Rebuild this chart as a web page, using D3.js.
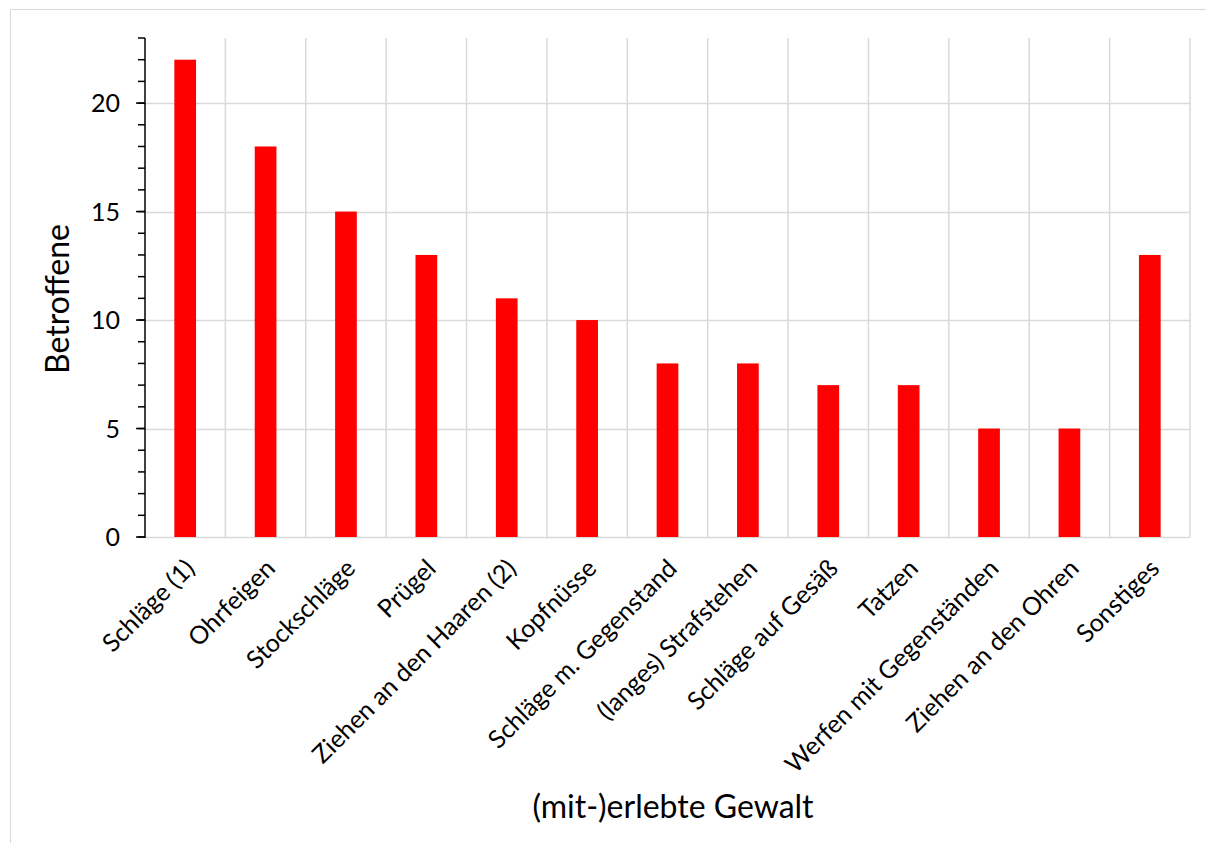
<!DOCTYPE html>
<html><head><meta charset="utf-8">
<script src="https://cdn.jsdelivr.net/npm/d3@7"></script>
<style>body{margin:0;background:#fff}svg{display:block;font-family:Lato,"Open Sans",sans-serif}</style>
</head><body><svg id="c" width="1206" height="843"></svg>
<script>
const categories = ["Schläge (1)","Ohrfeigen","Stockschläge","Prügel","Ziehen an den Haaren (2)","Kopfnüsse","Schläge m. Gegenstand","(langes) Strafstehen","Schläge auf Gesäß","Tatzen","Werfen mit Gegenständen","Ziehen an den Ohren","Sonstiges"];
const values = [22,18,15,13,11,10,8,8,7,7,5,5,13];
const yTicks = [0,5,10,15,20];
const yTitle = "Betroffene";
const xTitle = "(mit-)erlebte Gewalt";

const svg = d3.select("#c");
const L=145, R=1190, T=38, B=537;
svg.append("rect").attr("x",10.5).attr("y",9.5).attr("width",1200).attr("height",850).attr("fill","none").attr("stroke","#d9d9d9").attr("stroke-width",1);

const x = d3.scaleBand().domain(categories).range([L,R]).paddingInner(0).paddingOuter(0);
const y = d3.scaleLinear().domain([0,23]).range([B,T]);

// horizontal grid
svg.append("g").selectAll("line").data(yTicks).join("line")
  .attr("x1",L).attr("x2",R).attr("y1",d=>Math.round(y(d))+0.5).attr("y2",d=>Math.round(y(d))+0.5)
  .attr("stroke","#d9d9d9").attr("stroke-width",1.5);
// vertical grid
svg.append("g").selectAll("line").data(categories).join("line")
  .attr("x1",d=>x(d)+x.step()).attr("x2",d=>x(d)+x.step())
  .attr("y1",T).attr("y2",B).attr("stroke","#d9d9d9").attr("stroke-width",1.5);

// bars
const bw = x.bandwidth()*0.27;
svg.append("g").selectAll("rect").data(values).join("rect")
  .attr("x",(d,i)=>x(categories[i])+x.bandwidth()/2-bw/2).attr("width",bw)
  .attr("y",d=>y(d)).attr("height",d=>y(0)-y(d)).attr("fill","#ff0000");

// y axis
const minor = d3.range(0,24);
const ya = svg.append("g").attr("transform",`translate(${L},0)`);
ya.append("line").attr("x1",0).attr("x2",0).attr("y1",T).attr("y2",B+1).attr("stroke","#000").attr("stroke-width",1.5);
ya.selectAll("line.mn").data(minor).join("line").attr("class","mn")
  .attr("x1",-7).attr("x2",0).attr("y1",d=>y(d)).attr("y2",d=>y(d)).attr("stroke","#000").attr("stroke-width",1.5);
ya.selectAll("line.mj").data(yTicks).join("line").attr("class","mj")
  .attr("x1",-9).attr("x2",0).attr("y1",d=>y(d)).attr("y2",d=>y(d)).attr("stroke","#000").attr("stroke-width",1.5);
ya.selectAll("text").data(yTicks).join("text")
  .attr("x",-25).attr("y",d=>y(d)).attr("dy","0.36em").attr("text-anchor","end")
  .attr("font-size",25).attr("fill","#000").text(d=>d);

// x labels
svg.append("g").selectAll("text").data(categories).join("text")
  .attr("transform",d=>`translate(${x(d)+x.bandwidth()/2+11},${570}) rotate(-45)`)
  .attr("text-anchor","end").attr("font-size",25).attr("fill","#000").text(d=>d);

svg.append("text").attr("transform",`translate(69,299) rotate(-90)`).attr("text-anchor","middle")
  .attr("font-size",32).attr("fill","#000").text(yTitle);
svg.append("text").attr("x",673).attr("y",818).attr("text-anchor","middle")
  .attr("font-size",32).attr("fill","#000").text(xTitle);
</script></body></html>
